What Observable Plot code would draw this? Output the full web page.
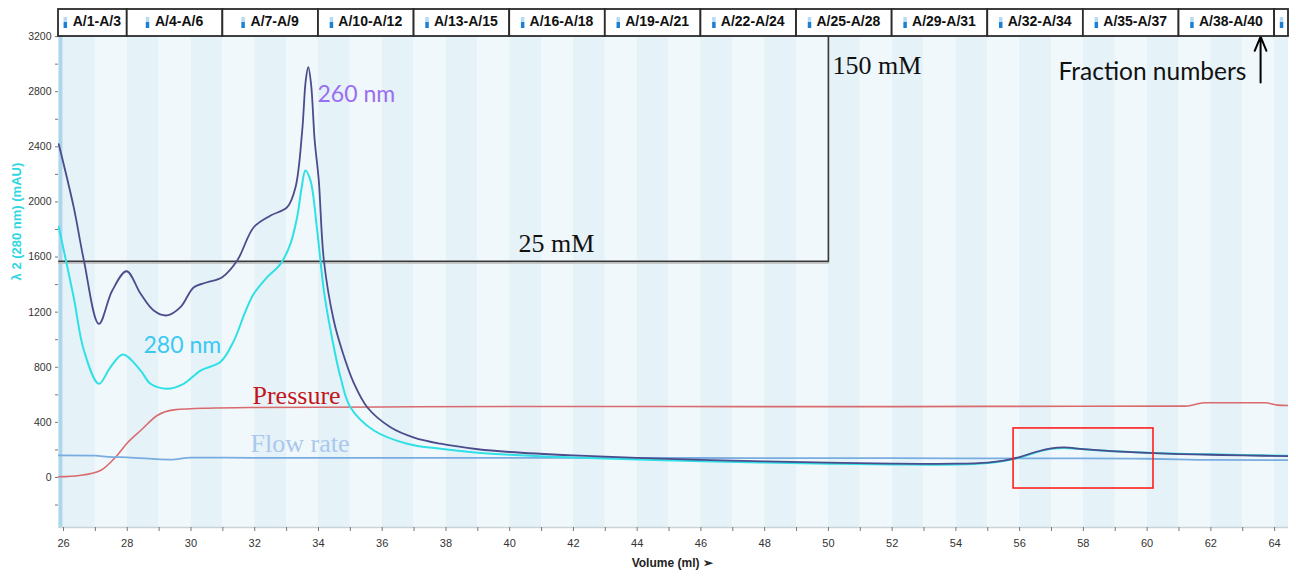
<!DOCTYPE html>
<html><head><meta charset="utf-8">
<script src="https://cdn.jsdelivr.net/npm/d3@7"></script>
<script src="https://cdn.jsdelivr.net/npm/@observablehq/plot@0.6"></script>
<style>body{margin:0;background:#fff;overflow:hidden}</style>
</head><body><div id="chart"></div>
<script>
// ---- data ----
const vol260 = [25.85, 26.32, 26.64, 27.11, 27.53, 27.98, 28.42, 28.83, 29.25, 29.67, 30.09, 30.51, 30.98, 31.45, 31.97, 32.5, 33.02, 33.28, 33.49, 33.6, 33.68, 33.77, 33.88, 34.01, 34.17, 34.48, 34.74, 35.1, 35.53, 36.26, 37.0, 37.83, 39, 40, 42, 44, 46, 48, 50, 52, 54, 55, 55.5, 56, 56.5, 57, 57.4, 58, 59, 60, 61, 62, 63, 64.44];
const abs260 = [2420, 1962, 1575, 1115, 1357, 1497, 1333, 1212, 1176, 1236, 1381, 1417, 1454, 1575, 1816, 1901, 1962, 2107, 2518, 2880, 2978, 2850, 2450, 2155, 1575, 1139, 922, 690, 510, 365, 290, 245, 205, 185, 160, 142, 128, 117, 108, 101, 100, 108, 122, 148, 185, 212, 218, 206, 190, 178, 170, 165, 160, 155];

const vol280 = [25.85, 26.32, 26.64, 27.11, 27.47, 27.87, 28.42, 28.73, 29.25, 29.77, 30.3, 30.93, 31.34, 31.7, 31.97, 32.39, 32.81, 33.12, 33.33, 33.47, 33.59, 33.75, 33.96, 34.17, 34.38, 34.7, 35.0, 35.74, 36.78, 37.83, 39, 40, 42, 44, 46, 48, 50, 52, 54, 55, 55.5, 56, 56.5, 57, 57.4, 58, 59, 60, 61, 62, 63, 64.44];
const abs280 = [1820, 1308, 922, 680, 800, 893, 776, 680, 644, 680, 776, 840, 990, 1200, 1333, 1454, 1551, 1696, 1889, 2100, 2228, 2155, 1792, 1357, 1067, 720, 510, 341, 245, 208, 180, 165, 145, 130, 118, 108, 100, 95, 94, 105, 120, 145, 182, 208, 214, 205, 190, 180, 172, 168, 164, 158];

const volPressure = [25.85, 26.5, 27.16, 27.68, 28.0, 28.42, 28.94, 29.46, 30.51, 32, 36, 40, 45, 50, 55, 61.2, 61.8, 63.7, 64.1, 64.44];
const pressure    = [5, 15, 51, 160, 250, 341, 450, 491, 503, 508, 512, 515, 515, 514, 516, 518, 542, 542, 525, 522];

const volFlow = [25.85, 27.0, 27.4, 28, 29.36, 30, 32, 36, 40, 44, 48, 52, 56, 58, 60, 62, 64.44];
const flow    = [160, 158, 150, 146, 130, 144, 143, 142, 142, 143, 140, 140, 138, 138, 136, 128, 126];

const volGradient = [25.85, 50, 50];
const gradient    = [1570, 1570, 3400];

const fractionStarts = [25, 28, 31, 34, 37, 40, 43, 46, 49, 52, 55, 58, 61, 64];
const fractionLabels = ["A/1-A/3","A/4-A/6","A/7-A/9","A/10-A/12","A/13-A/15","A/16-A/18","A/19-A/21","A/22-A/24","A/25-A/28","A/29-A/31","A/32-A/34","A/35-A/37","A/38-A/40",""];

const xTicks = d3.range(26, 65, 1);
const yTicks = d3.range(-200, 3201, 200);

// ---- layout ----
const W = 1296, H = 577, mL = 58, mR = 8, mT = 35, mB = 50;
const xMin = 25.843, xMax = 64.436, yMin = -363, yMax = 3208;
const pxX = (W - mL - mR) / (xMax - xMin);
const pxY = (H - mT - mB) / (yMax - yMin);
const yAbove = px => yMax + px / pxY; // value at px above plot top

const toRows = (xs, ys) => xs.map((x, i) => ({x, y: ys[i]}));
const bands = d3.range(25, 65).map(n => ({x1: Math.max(n, xMin), x2: Math.min(n + 1, xMax), dark: n % 2 === 0}));
const boxes = fractionStarts.map((s, i) => {
  const x1 = Math.max(s, xMin), x2 = Math.min(s + 3, xMax);
  const c = (x1 + x2) / 2;
  const w = fractionLabels[i].length * 7.3;
  const textX = fractionLabels[i] ? c + 4 / pxX : c;
  const iconX = fractionLabels[i] ? textX - (w / 2 + 6) / pxX : c;
  return {x1, x2, label: fractionLabels[i], textX, iconX};
});

const sansLbl = "Lato, 'Open Sans', sans-serif";
const serif = "'Liberation Serif', 'DejaVu Serif', serif";
const tickFont = "'Liberation Sans', Arial, sans-serif";

const chart = Plot.plot({
  width: W, height: H,
  marginLeft: mL, marginRight: mR, marginTop: mT, marginBottom: mB,
  x: {domain: [xMin, xMax]},
  y: {domain: [yMin, yMax]},
  style: {background: "#fff"},
  marks: [
    Plot.rect(bands, {x1: "x1", x2: "x2", y1: yMin, y2: yMax, fill: d => d.dark ? "#e5f2f8" : "#f0f8fb"}),
    Plot.ruleY([yMin], {stroke: "#c9d3d8", strokeWidth: 1.5}),
    Plot.ruleX([xMin], {stroke: "#acd6ea", strokeWidth: 4, dx: 2}),
    Plot.axisX({ticks: xTicks, tickFormat: d => d % 2 ? "" : String(d), tickSize: 4, tickPadding: 8, label: null,
      fontSize: 11, fontFamily: tickFont, stroke: "#777", fill: "#333"}),
    Plot.axisY({ticks: yTicks, tickFormat: d => d % 400 ? "" : String(d), tickSize: 3, tickPadding: 4, label: null,
      fontSize: 10.5, fontFamily: tickFont, stroke: "#777", fill: "#333"}),
    // gradient step
    Plot.line(toRows(volGradient, gradient), {x: "x", y: "y", stroke: "#bbb", strokeWidth: 2, dy: 1.5, clip: true}),
    Plot.line(toRows(volGradient, gradient), {x: "x", y: "y", stroke: "#3a3a3a", strokeWidth: 1.4, clip: true}),
    // traces
    Plot.line(toRows(volPressure, pressure), {x: "x", y: "y", stroke: "#d96b6e", strokeWidth: 1.6, curve: "monotone-x", clip: true}),
    Plot.line(toRows(volFlow, flow), {x: "x", y: "y", stroke: "#79ace0", strokeWidth: 1.8, curve: "monotone-x", clip: true}),
    Plot.line(toRows(vol280, abs280), {x: "x", y: "y", stroke: "#2fe0e6", strokeWidth: 2, curve: "catmull-rom", clip: true}),
    Plot.line(toRows(vol260, abs260), {x: "x", y: "y", stroke: "#4b4c8c", strokeWidth: 1.8, curve: "catmull-rom", clip: true}),
    // red box
    Plot.rect([{x1: 55.81, x2: 60.2, y1: -80, y2: 356}], {x1: "x1", x2: "x2", y1: "y1", y2: "y2", fill: "none", stroke: "#ff1f1f", strokeWidth: 1.6}),
    // annotations
    Plot.text(["260 nm"], {x: 33.97, y: 2779, textAnchor: "start", fill: "#9a6ef0", fontSize: 23, fontFamily: sansLbl}),
    Plot.text(["280 nm"], {x: 28.51, y: 958, textAnchor: "start", fill: "#3cc8f2", fontSize: 23, fontFamily: sansLbl}),
    Plot.text(["Pressure"], {x: 31.93, y: 595, textAnchor: "start", fill: "#c3161c", fontSize: 26, fontFamily: serif}),
    Plot.text(["Flow rate"], {x: 31.87, y: 247, textAnchor: "start", fill: "#a9c8ec", fontSize: 26, fontFamily: serif}),
    Plot.text(["25 mM"], {x: 40.28, y: 1698, textAnchor: "start", fill: "#111", fontSize: 26, fontFamily: serif}),
    Plot.text(["150 mM"], {x: 50.13, y: 2990, textAnchor: "start", fill: "#111", fontSize: 26, fontFamily: serif}),
    Plot.text(["Fraction numbers"], {x: 57.22, y: 2939, textAnchor: "start", fill: "#111", fontSize: 24.5, fontFamily: sansLbl}),
    Plot.arrow([{x: 63.56, y1: 2866, y2: 3200}], {x1: "x", x2: "x", y1: "y1", y2: "y2", stroke: "#000", strokeWidth: 2, headLength: 12, headAngle: 45}),
    // fraction bar
    Plot.rect(boxes, {x1: "x1", x2: "x2", y1: yAbove(-1), y2: yAbove(26), fill: "#fff", stroke: "#2b2b2b", strokeWidth: 1.8}),
    Plot.ruleX(boxes, {x: "iconX", y1: yAbove(13), y2: yAbove(18), stroke: "#b5dcf3", strokeWidth: 3.5}),
    Plot.ruleX(boxes, {x: "iconX", y1: yAbove(7), y2: yAbove(13), stroke: "#1d7fd2", strokeWidth: 3.5}),
    Plot.text(boxes, {x: "textX", y: yAbove(13.5), text: "label", fill: "#111", fontSize: 14, fontWeight: "bold", fontFamily: tickFont}),
    // axis titles
    Plot.text(["λ 2 (280 nm) (mAU)"], {frameAnchor: "left", y: 1430, dx: -42, rotate: -90, fill: "#2fd6e2", fontSize: 13, fontWeight: "bold", fontFamily: tickFont}),
    Plot.text(["Volume (ml) ➢"], {frameAnchor: "bottom", x: 45.1, dy: 39, fill: "#222", fontSize: 12, fontWeight: "bold", fontFamily: tickFont})
  ]
});
document.getElementById("chart").appendChild(chart);
</script>
</body></html>
